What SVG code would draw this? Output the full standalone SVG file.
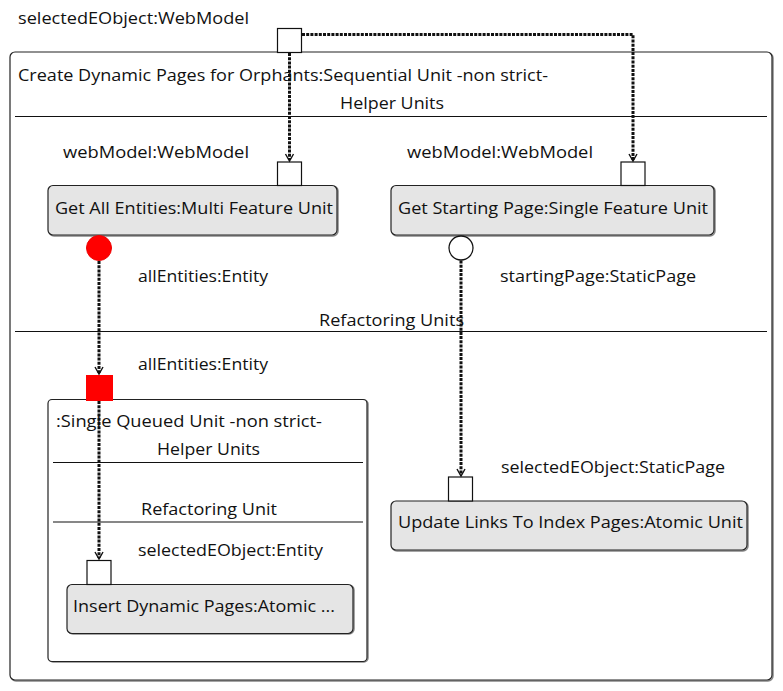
<svg xmlns="http://www.w3.org/2000/svg" width="783" height="691" viewBox="0 0 783 691">
<style>
text{font-family:"Open Sans","Noto Sans","DejaVu Sans",sans-serif;font-size:16px;fill:#111}
.box{fill:#fff;stroke:#222;stroke-width:1.2}
.sh{fill:none;stroke:#888;stroke-width:1.5}
.unit{fill:#e5e5e5;stroke:#222;stroke-width:1.2}
.port{fill:#fff;stroke:#111;stroke-width:1.2}
.sep{stroke:#111;stroke-width:1.2}
.flow{fill:none;stroke:#111;stroke-width:3;stroke-dasharray:3 1.2}
.head{fill:none;stroke:#111;stroke-width:1.4}
</style>
<defs>
<clipPath id="c1"><rect x="0" y="0" width="783" height="330.5"/></clipPath>
<clipPath id="c2"><rect x="0" y="0" width="783" height="521"/></clipPath>
</defs>
<rect x="0" y="0" width="783" height="691" fill="#fff"/>

<g id="outer">
<rect class="sh" x="11" y="53" width="762" height="628" rx="5"/>
<rect class="box" x="10" y="52" width="762" height="628" rx="5"/>
<text x="18" y="81" textLength="530" lengthAdjust="spacingAndGlyphs">Create Dynamic Pages for Orphants:Sequential Unit -non strict-</text>
<text x="340" y="109" textLength="104" lengthAdjust="spacingAndGlyphs">Helper Units</text>
<line class="sep" x1="15" y1="116.5" x2="767" y2="116.5"/>
<text x="319" y="326" textLength="145" lengthAdjust="spacingAndGlyphs" clip-path="url(#c1)">Refactoring Units</text>
<line class="sep" x1="15" y1="331.5" x2="767" y2="331.5"/>
</g>

<g id="port-selectedEObject-WebModel">
<text x="18" y="24" textLength="231" lengthAdjust="spacingAndGlyphs">selectedEObject:WebModel</text>
<rect class="port" x="277.5" y="28.5" width="24" height="24"/>
</g>

<g id="get-all-entities">
<rect class="sh" x="49" y="186" width="289" height="50" rx="5"/>
<rect class="unit" x="48" y="185.5" width="289" height="49.5" rx="5"/>
<text x="55" y="214" textLength="278" lengthAdjust="spacingAndGlyphs">Get All Entities:Multi Feature Unit</text>
<text x="63" y="158" textLength="186" lengthAdjust="spacingAndGlyphs">webModel:WebModel</text>
<rect class="port" x="277.5" y="162" width="24" height="23.5"/>
<circle cx="99" cy="248" r="12.5" fill="#f00" stroke="#e00" stroke-width="1"/>
<text x="138" y="282" textLength="130" lengthAdjust="spacingAndGlyphs">allEntities:Entity</text>
</g>

<g id="get-starting-page">
<rect class="sh" x="392" y="186" width="323" height="50" rx="5"/>
<rect class="unit" x="391" y="185.5" width="323" height="49.5" rx="5"/>
<text x="398" y="214" textLength="310" lengthAdjust="spacingAndGlyphs">Get Starting Page:Single Feature Unit</text>
<text x="407" y="158" textLength="186" lengthAdjust="spacingAndGlyphs">webModel:WebModel</text>
<rect class="port" x="621" y="162" width="24" height="23.5"/>
<circle cx="461" cy="248" r="12" fill="#fff" stroke="#111" stroke-width="1.3"/>
<text x="500" y="282" textLength="196" lengthAdjust="spacingAndGlyphs">startingPage:StaticPage</text>
</g>

<g id="single-queued-unit">
<rect class="sh" x="49" y="400" width="319" height="262" rx="4"/>
<rect class="box" x="48" y="399.5" width="319" height="262" rx="4"/>
<text x="56" y="427" textLength="266" lengthAdjust="spacingAndGlyphs">:Single Queued Unit -non strict-</text>
<text x="157" y="455" textLength="103" lengthAdjust="spacingAndGlyphs">Helper Units</text>
<line class="sep" x1="53" y1="462.5" x2="363" y2="462.5"/>
<text x="141" y="515" textLength="136" lengthAdjust="spacingAndGlyphs" clip-path="url(#c2)">Refactoring Unit</text>
<line class="sep" x1="53" y1="522" x2="363" y2="522"/>
<text x="138" y="370" textLength="130" lengthAdjust="spacingAndGlyphs">allEntities:Entity</text>
<rect x="86" y="375" width="27" height="26" fill="#f00"/>
</g>

<g id="insert-dynamic-pages">
<rect class="sh" x="68" y="585" width="286" height="49" rx="5"/>
<rect class="unit" x="67" y="584.5" width="286" height="49" rx="5"/>
<text x="73" y="612" textLength="262" lengthAdjust="spacingAndGlyphs">Insert Dynamic Pages:Atomic ...</text>
<text x="138" y="556" textLength="185" lengthAdjust="spacingAndGlyphs">selectedEObject:Entity</text>
<rect class="port" x="87" y="560.5" width="24" height="24"/>
</g>

<g id="update-links">
<rect class="sh" x="392" y="502" width="356" height="49" rx="5"/>
<rect class="unit" x="391" y="501" width="356" height="49" rx="5"/>
<text x="398" y="528" textLength="345" lengthAdjust="spacingAndGlyphs">Update Links To Index Pages:Atomic Unit</text>
<text x="501" y="473" textLength="224" lengthAdjust="spacingAndGlyphs">selectedEObject:StaticPage</text>
<rect class="port" x="448.5" y="477" width="24" height="24"/>
</g>

<g id="connectors">
<path class="flow" d="M289.5 53 V160"/>
<path class="head" d="M285.5 154 L289.5 161 L293.5 154"/>
<path class="flow" d="M302 34.5 H633 V160"/>
<path class="head" d="M629 154 L633 161 L637 154"/>
<path class="flow" d="M99 261 V373"/>
<path class="head" d="M95 367 L99 374 L103 367"/>
<path class="flow" d="M99 401 V558"/>
<path class="head" d="M95 552 L99 559 L103 552"/>
<path class="flow" d="M461 260.5 V475"/>
<path class="head" d="M457 469 L461 476 L465 469"/>
</g>
</svg>
